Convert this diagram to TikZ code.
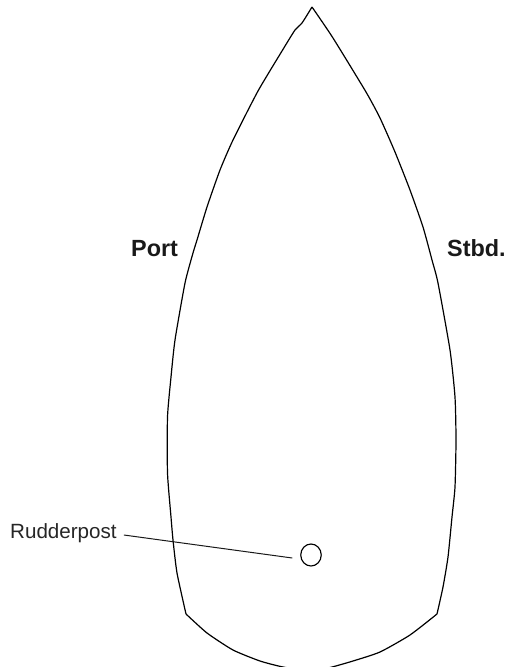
\documentclass[tikz,border=0pt]{standalone}
\usepackage{fontspec}
\setmainfont{Liberation Sans}
\usetikzlibrary{shapes.geometric}
\tikzset{
  hull/.style={draw=black,line width=1.2pt,line join=round,smooth,tension=0.35},
  callout/.style={font=\fontsize{20.6pt}{24pt}\selectfont,text=black!85,inner sep=0pt},
  side/.style={font=\bfseries\fontsize{23.4pt}{27pt}\selectfont,text=black!90,inner sep=0pt},
  post/.style={draw=black,line width=1.15pt,ellipse,minimum width=20.5pt,minimum height=22pt,inner sep=0pt,outer sep=0pt},
  leader/.style={draw=black!90,line width=1pt}
}
\begin{document}
\begin{tikzpicture}[x=1pt,y=-1pt]
\useasboundingbox (0,0) rectangle (507,667);
\clip (0,0) rectangle (507,667);
% port side, apex to stern corner
\draw[hull] plot coordinates {(312,7)(302,23)(295,30)(282,51)(258,91)(233,140)(220,170)(207,207)(197,240)(193,253)(185,283)(175,340)(171,377)(167.5,417)(167.5,473)(171,517)(173,540)(177,573)(186,614)};
% starboard side, apex to stern corner
\draw[hull] plot coordinates {(312,7)(333,38)(366,92)(380,118)(395,152)(410,190)(423,227)(432,260)(438,283)(450,350)(455,397)(456,440)(455,487)(452,517)(448,557)(443,587)(437,614)};
% stern
\draw[hull] plot coordinates {(186,614)(207,633)(233,650)(260,661)(283,667)(312,671)(332,667)(353,661)(380,652)(410,635)(437,614)};
\node[post] (rudder) at (311,555) {};
\node[callout,anchor=base west] (rudlabel) at (10,538) {Rudderpost};
\node[side,anchor=base west] (port) at (131,256) {Port};
\node[side,anchor=base west] (stbd) at (447,256) {Stbd.};
\coordinate (leadstart) at (rudlabel.east |- 0,535);
\coordinate (leadstart) at ([xshift=7pt]leadstart);
\coordinate (leadend) at ([xshift=-8.5pt,yshift=-3pt]rudder.west);
\draw[leader] (leadstart) -- (leadend);
\end{tikzpicture}
\end{document}
